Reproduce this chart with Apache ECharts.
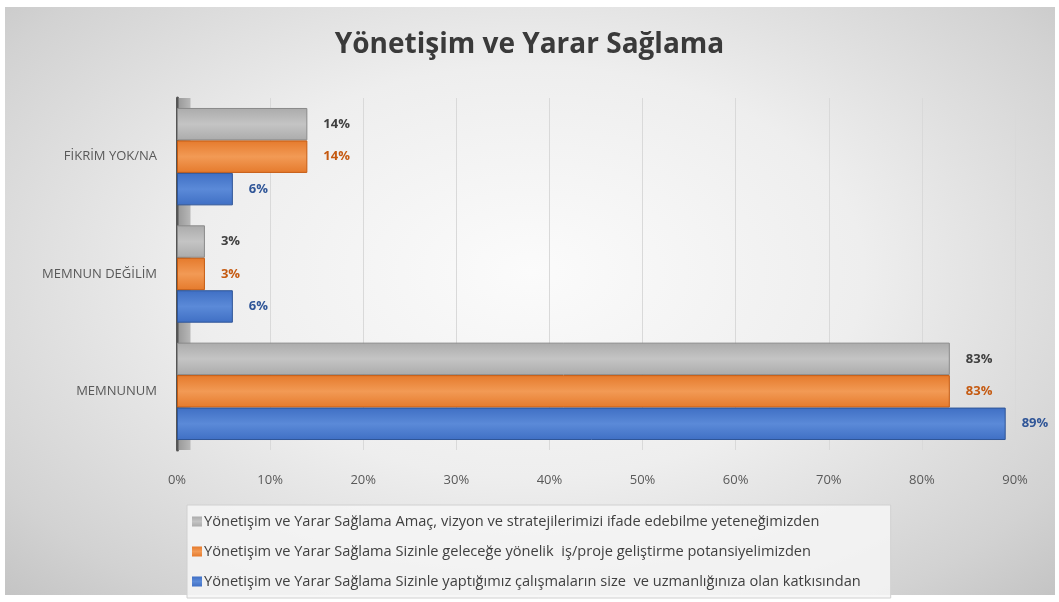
<!DOCTYPE html>
<html>
<head>
<meta charset="utf-8">
<script src="https://cdn.jsdelivr.net/npm/echarts@6/dist/echarts.min.js"></script>
<style>
  body { margin: 0; background: #fff; }
  #panel {
    position: absolute; left: 5px; top: 7px; width: 1050px; height: 588px;
    background: radial-gradient(ellipse at 50% 45%, #fbfbfb 0%, #eeeeee 45%, #d2d2d2 85%, #c4c4c4 100%);
  }
  #main { position: absolute; left: 0; top: 0; width: 1059px; height: 602px; }
</style>
</head>
<body>
<div id="panel"></div>
<div id="main"></div>
<script>
// kategoriler (alttan üste)
var categories = ["MEMNUNUM", "MEMNUN DEĞİLİM", "FİKRİM YOK/NA"];

var nameGray = "Yönetişim ve Yarar Sağlama Amaç, vizyon ve stratejilerimizi ifade edebilme yeteneğimizden";
var nameOrange = "Yönetişim ve Yarar Sağlama Sizinle geleceğe yönelik  iş/proje geliştirme potansiyelimizden";
var nameBlue = "Yönetişim ve Yarar Sağlama Sizinle yaptığımız çalışmaların size  ve uzmanlığınıza olan katkısından";

var grayValues = [83, 3, 14];
var orangeValues = [83, 3, 14];
var blueValues = [89, 6, 6];

var xTicks = [0, 90, 10]; // min, max, aralık

var myChart = echarts.init(document.getElementById("main"));

function barColor(c1, c2) {
  return new echarts.graphic.LinearGradient(0, 0, 0, 1, [
    { offset: 0, color: c1 },
    { offset: 0.5, color: c2 },
    { offset: 1, color: c1 }
  ]);
}

function makeSeries(name, data, c1, c2, border, labelColor) {
  return {
    name: name,
    type: "bar",
    data: data,
    barGap: "0%",
    barCategoryGap: "17%",
    z: 3,
    itemStyle: { color: barColor(c1, c2), borderColor: border, borderWidth: 1 },
    label: {
      show: true,
      position: "right",
      distance: 16,
      formatter: "{c}%",
      color: labelColor,
      fontWeight: "bold",
      fontSize: 13,
      fontFamily: "Open Sans"
    }
  };
}

var option = {
  backgroundColor: "transparent",
  title: {
    text: "Yönetişim ve Yarar Sağlama",
    left: "center",
    top: 26,
    textStyle: { fontFamily: "Open Sans", fontSize: 28, fontWeight: "bold", color: "#3a3a3a" }
  },
  legend: {
    orient: "vertical",
    left: 187,
    top: 505,
    itemWidth: 10,
    itemHeight: 10,
    itemGap: 15,
    itemStyle: { borderWidth: 0 },
    padding: [9, 30, 9, 5],
    backgroundColor: "rgba(246,246,246,0.85)",
    borderColor: "#d0d0d0",
    borderWidth: 1,
    data: [nameGray, nameOrange, nameBlue],
    textStyle: { fontFamily: "Open Sans", fontSize: 14.6, color: "#404040", padding: [0, 0, 0, -3] },
    icon: "rect"
  },
  grid: { left: 177, right: 44, top: 98, bottom: 152 },
  xAxis: {
    type: "value",
    min: xTicks[0],
    max: xTicks[1],
    interval: xTicks[2],
    axisLabel: { formatter: "{value}%", color: "#595959", fontSize: 13, fontFamily: "Open Sans", margin: 24 },
    axisLine: { show: false },
    axisTick: { show: false },
    splitLine: { lineStyle: { color: "#d9d9d9" } }
  },
  yAxis: {
    type: "category",
    data: categories,
    axisLine: { show: true, lineStyle: { color: "#555", width: 3 } },
    axisTick: { show: false },
    axisLabel: { color: "#595959", fontSize: 13, fontFamily: "Open Sans", margin: 20 }
  },
  series: [
    makeSeries(nameGray, grayValues, "#ababab", "#c4c4c4", "#8a8a8a", "#404040"),
    makeSeries(nameOrange, orangeValues, "#e57a2c", "#f29a55", "#c55a11", "#c55a11"),
    makeSeries(nameBlue, blueValues, "#3f6fc4", "#5b8ad8", "#2f5597", "#2f5597")
  ]
};

myChart.setOption(option);

// sol duvar (3B görünüm için)
var p0 = myChart.convertToPixel({ gridIndex: 0 }, [0, 2]);
var p1 = myChart.convertToPixel({ gridIndex: 0 }, [0, 0]);
var band = (p1[1] - p0[1]) / 2;
myChart.setOption({
  graphic: [{
    type: "rect",
    z: 1,
    shape: { x: p0[0] + 1.5, y: p0[1] - band / 2, width: 12, height: band * 3 },
    style: {
      fill: new echarts.graphic.LinearGradient(0, 0, 1, 0, [
        { offset: 0, color: "#9a9a9a" },
        { offset: 1, color: "#b8b8b8" }
      ])
    }
  }]
});
</script>
</body>
</html>
